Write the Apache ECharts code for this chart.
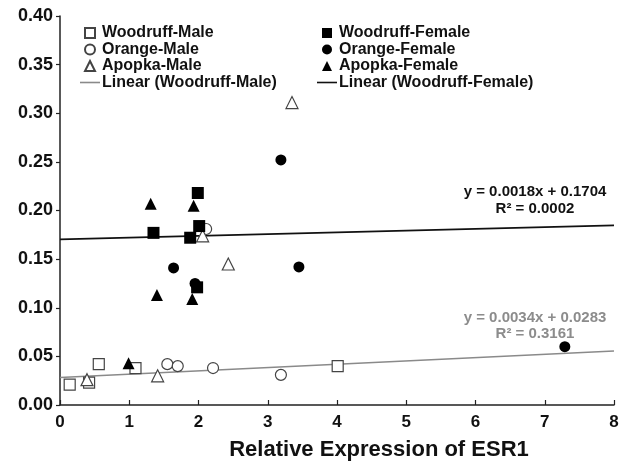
<!DOCTYPE html>
<html>
<head>
<meta charset="utf-8">
<script src="https://cdn.jsdelivr.net/npm/echarts@6/dist/echarts.min.js"></script>
<style>
html,body{margin:0;padding:0;background:#fff;}
#c{width:629px;height:466px;}
</style>
</head>
<body>
<div id="c"></div>
<script>
// ---- data ----
const woodruffMale   = [[0.14,0.021],[0.42,0.023],[0.56,0.042],[1.09,0.038],[4.01,0.040]];
const orangeMale     = [[1.55,0.042],[1.70,0.040],[2.21,0.038],[3.19,0.031],[2.11,0.181]];
const apopkaMale     = [[0.39,0.026],[1.41,0.030],[3.35,0.311],[2.06,0.174],[2.43,0.145]];
const woodruffFemale = [[1.99,0.218],[2.01,0.184],[1.35,0.177],[1.88,0.172],[1.98,0.121]];
const orangeFemale   = [[1.64,0.141],[1.95,0.125],[3.19,0.252],[3.45,0.142],[7.29,0.060]];
const apopkaFemale   = [[1.31,0.207],[1.93,0.205],[1.40,0.113],[1.91,0.109],[0.99,0.043]];
const trendMale      = [[0,0.0283],[8,0.0555]];
const trendFemale    = [[0,0.1704],[8,0.1848]];
const eqMale   = ['y = 0.0034x + 0.0283','R\u00B2 = 0.3161'];
const eqFemale = ['y = 0.0018x + 0.1704','R\u00B2 = 0.0002'];
const xTitle = 'Relative Expression of ESR1';
const legendLeft  = ['Woodruff-Male','Orange-Male','Apopka-Male','Linear (Woodruff-Male)'];
const legendRight = ['Woodruff-Female','Orange-Female','Apopka-Female','Linear (Woodruff-Female)'];

const FONT = '"Liberation Sans", Arial, sans-serif';
const openStyle = {color:'#ffffff', borderColor:'#444444', borderWidth:1.2, opacity:1};
const fillStyle = {color:'#000000', borderColor:'#000000', borderWidth:0, opacity:1};

const ICON_SQ  = 'path://M0,0L10,0L10,10L0,10Z';
const ICON_TRI = 'path://M5,0L10,10L0,10Z';
const ICON_LN  = 'path://M0,0L20,0L20,1.6L0,1.6Z';
function iconFor(name){
  if (name.indexOf('Linear') === 0) return ICON_LN;
  if (name.indexOf('Woodruff') === 0) return ICON_SQ;
  if (name.indexOf('Apopka') === 0) return ICON_TRI;
  return 'circle';
}
function legendData(arr){ return arr.map(n => ({name:n, icon:iconFor(n)})); }

function sc(name, data, symbol, style, size){
  return {name, type:'scatter', data, symbol, symbolSize:size, itemStyle:style, z:3};
}

const legendBase = {top:25, orient:'vertical', padding:0, itemGap:0.5, itemWidth:20, itemHeight:10,
  selectedMode:false, symbolKeepAspect:true,
  textStyle:{fontFamily:FONT, fontWeight:'bold', fontSize:16, color:'#111', lineHeight:16, padding:[0,0,0,-3]}};

const chart = echarts.init(document.getElementById('c'), null, {renderer:'canvas'});
chart.setOption({
  backgroundColor:'#ffffff',
  animation:false,
  grid:{left:60, right:15, top:16, bottom:61},
  xAxis:{
    type:'value', min:0, max:8, interval:1,
    name:xTitle, nameLocation:'middle', nameGap:34,
    nameTextStyle:{fontFamily:FONT, fontWeight:'bold', fontSize:22, color:'#111', padding:[0,0,0,84]},
    axisLine:{lineStyle:{color:'#222', width:1.5}},
    axisTick:{inside:true, length:5, lineStyle:{color:'#222', width:1.2}},
    axisLabel:{fontFamily:FONT, fontWeight:'bold', fontSize:17, color:'#111', margin:9},
    splitLine:{show:false}
  },
  yAxis:{
    type:'value', min:0, max:0.4, interval:0.05,
    axisLine:{show:true, lineStyle:{color:'#222', width:1.5}},
    axisTick:{show:true, inside:false, length:4, lineStyle:{color:'#222', width:1.2}},
    axisLabel:{fontFamily:FONT, fontWeight:'bold', fontSize:18, color:'#111', margin:7,
      formatter:v=>v.toFixed(2)},
    splitLine:{show:false}
  },
  legend:[
    Object.assign({left:80, data:legendData(legendLeft)}, legendBase),
    Object.assign({left:317, data:legendData(legendRight)}, legendBase)
  ],
  series:[
    {name:legendLeft[3], type:'line', data:trendMale, symbol:'none',
     lineStyle:{color:'#8a8a8a', width:1.6}, itemStyle:{color:'#8a8a8a'}, z:2},
    {name:legendRight[3], type:'line', data:trendFemale, symbol:'none',
     lineStyle:{color:'#111', width:1.8}, itemStyle:{color:'#111'}, z:2},
    sc(legendLeft[0], woodruffMale, 'rect', openStyle, 11),
    sc(legendLeft[1], orangeMale, 'circle', openStyle, 11),
    sc(legendLeft[2], apopkaMale, 'triangle', openStyle, 12),
    sc(legendRight[0], woodruffFemale, 'rect', fillStyle, 12),
    sc(legendRight[1], orangeFemale, 'circle', fillStyle, 11),
    sc(legendRight[2], apopkaFemale, 'triangle', fillStyle, 12)
  ],
  graphic:[
    {type:'text', x:535, y:192, style:{text:eqFemale[0], font:'bold 15px '+FONT, fill:'#111', align:'center', verticalAlign:'middle'}},
    {type:'text', x:535, y:209, style:{text:eqFemale[1], font:'bold 15px '+FONT, fill:'#111', align:'center', verticalAlign:'middle'}},
    {type:'text', x:535, y:318, style:{text:eqMale[0], font:'bold 15px '+FONT, fill:'#8c8c8c', align:'center', verticalAlign:'middle'}},
    {type:'text', x:535, y:334, style:{text:eqMale[1], font:'bold 15px '+FONT, fill:'#8c8c8c', align:'center', verticalAlign:'middle'}}
  ]
});
</script>
</body>
</html>
